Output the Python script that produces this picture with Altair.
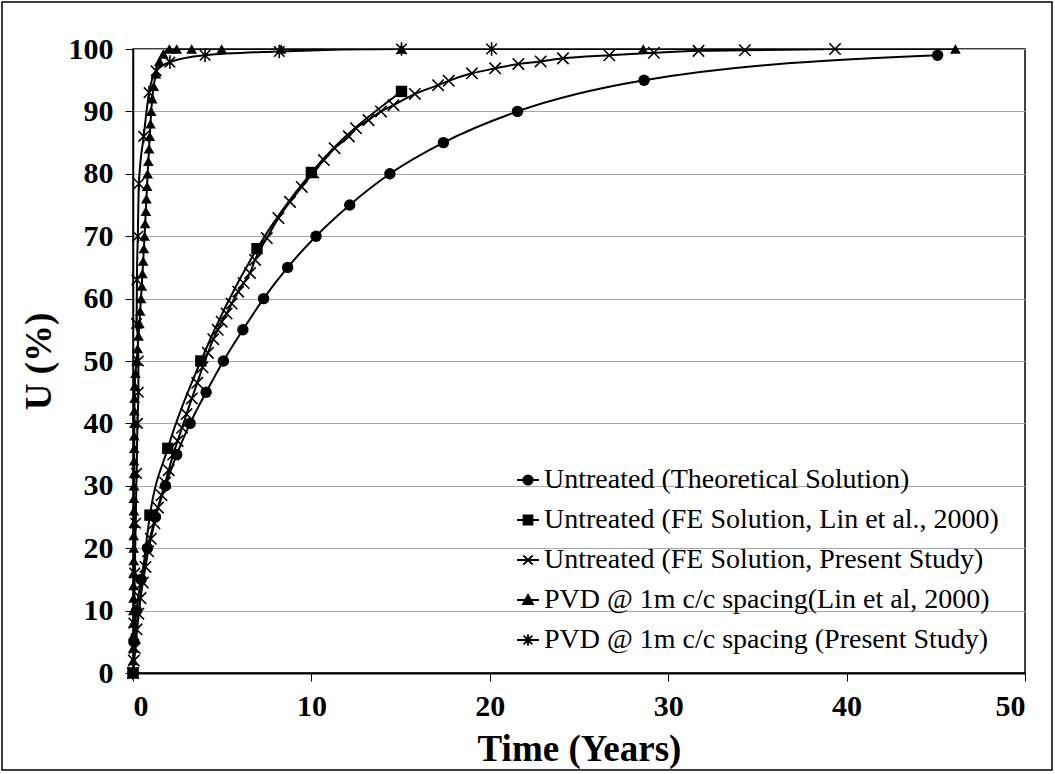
import altair as alt
import pandas as pd

# ---------------- data ----------------
SERIES = [
    "Untreated (Theoretical Solution)",
    "Untreated (FE Solution, Lin et al., 2000)",
    "Untreated (FE Solution, Present Study)",
    "PVD @ 1m c/c spacing(Lin et al, 2000)",
    "PVD @ 1m c/c spacing (Present Study)",
]

theo_t = [0, 0.05, 0.2, 0.45, 0.81, 1.26, 1.82, 2.45, 3.2, 4.1, 5.07, 6.16, 7.32,
          8.67, 10.26, 12.15, 14.4, 17.4, 21.55, 28.65, 45.1]
theo_u = [0, 5, 10, 15, 20, 25, 30, 35, 40, 45, 50, 55, 60,
          65, 70, 75, 80, 85, 90, 95, 99]

linfe_t = [0, 0.95, 1.95, 3.8, 6.95, 10.0, 15.05]
linfe_u = [0, 25.3, 36.0, 50.0, 68.0, 80.2, 93.2]

fe_t = [0, 0.05, 0.1, 0.2, 0.3, 0.42, 0.55, 0.7, 0.85, 1.0, 1.2, 1.4, 1.6, 1.8,
        2.0, 2.25, 2.5, 2.75, 3.0, 3.3, 3.6, 3.9, 4.2, 4.5, 4.75, 4.97, 5.25,
        5.53, 5.9, 6.2, 6.56, 6.84, 7.5, 8.15, 8.8, 9.46, 10.1, 10.7, 11.3,
        12.1, 12.5, 13.2, 13.9, 14.6, 15.8, 17.1, 17.7, 19.0, 20.3, 21.6,
        22.85, 24.1, 26.7, 29.2, 31.7, 34.3, 39.35]
fe_u = [0, 2, 4, 7, 9.5, 12, 14.5, 17, 19.5, 21.5, 24, 26.5, 28.5, 30.5,
        32.5, 35, 37.2, 39.3, 41.5, 44, 46.5, 49, 51.3, 53.5, 55, 56.3, 57.6,
        59.2, 61.1, 62.5, 64.1, 66.2, 69.7, 72.9, 75.5, 77.9, 80.2, 82.2, 84.1,
        86.0, 87.3, 88.6, 90.0, 91.0, 92.8, 94.2, 94.9, 96.1, 96.9, 97.6,
        98.0, 98.5, 99.0, 99.4, 99.7, 99.8, 100]

pvdlin_t = [0, 0.01, 0.01, 0.02, 0.02, 0.02, 0.03, 0.03, 0.03, 0.04, 0.04, 0.04,
            0.05, 0.05, 0.05, 0.06, 0.06, 0.06, 0.07, 0.07, 0.08, 0.08, 0.09, 0.1,
            0.14, 0.2, 0.26, 0.31, 0.36, 0.4, 0.45, 0.49, 0.53, 0.57, 0.61, 0.65,
            0.68, 0.72, 0.75, 0.79, 0.82, 0.86, 0.9, 0.94, 0.98, 1.02, 1.08, 1.16,
            1.28, 1.48, 1.7, 2.04, 2.45, 3.29, 4.97, 8.3, 15.05, 28.6, 46.1]
pvdlin_u = [0, 2, 4, 6, 8, 10, 12, 14, 16, 18, 20, 22,
            24, 26, 28, 30, 32, 34, 36, 38, 40, 42, 44, 46,
            48, 50, 52, 54, 56, 58, 60, 62, 64, 66, 68, 70,
            72, 74, 76, 78, 80, 82, 84, 86, 88, 90, 92, 94,
            96, 98, 99.2, 100, 100, 100, 100, 100, 100, 100, 100]

pvdps_t = [0, 0.05, 0.1, 0.15, 0.2, 0.25, 0.3, 0.3, 0.2, 0.22, 0.27, 0.33,
           0.6, 0.9, 1.3, 2.07, 4.04, 8.2, 15.05, 20.1]
pvdps_u = [0, 8, 16, 24, 32, 40, 45, 50, 56, 63, 70, 78.4,
           86, 93, 96.5, 97.9, 99.0, 99.6, 100, 100]

# ---------------- marker shapes ----------------
X_PATH = "M-1,-1L1,1M-1,1L1,-1"
AST_PATH = "M-1,-1L1,1M-1,1L1,-1M0,-1.3L0,1.3"

LEG_PATHS = [
    "M-1,0L1,0M0.42,0A0.42,0.42,0,1,1,-0.42,0A0.42,0.42,0,1,1,0.42,0Z",
    "M-1,0L1,0M-0.4,-0.4H0.4V0.4H-0.4Z",
    "M-1,0L1,0M-0.42,-0.42L0.42,0.42M-0.42,0.42L0.42,-0.42",
    "M-1,0L1,0M0,-0.45L0.44,0.36H-0.44Z",
    "M-1,0L1,0M-0.4,-0.4L0.4,0.4M-0.4,0.4L0.4,-0.4M0,-0.5L0,0.5",
]

FONT = "Liberation Serif"
X_SCALE = alt.Scale(domain=[0, 50], nice=False, zero=False)
Y_SCALE = alt.Scale(domain=[0, 100], nice=False)


def frame(t, u, name):
    return pd.DataFrame({"t": t, "u": u, "series": name})


def series_layers(df, shape, size, filled, sw):
    base = alt.Chart(df).encode(
        x=alt.X("t:Q", scale=X_SCALE),
        y=alt.Y("u:Q", scale=Y_SCALE),
        order=alt.Order("idx:Q"),
    ).transform_window(idx="row_number()")
    line = base.mark_line(color="black", strokeWidth=2, clip=True, interpolate="monotone")
    pts = base.mark_point(shape=shape, size=size, filled=filled, color="black",
                          strokeWidth=sw, opacity=1, clip=False)
    return [line, pts]


layers = []
layers += series_layers(frame(theo_t, theo_u, SERIES[0]), "circle", 130, True, 1)
layers += series_layers(frame(linfe_t, linfe_u, SERIES[1]), "square", 130, True, 1)
layers += series_layers(frame(fe_t, fe_u, SERIES[2]), X_PATH, 130, False, 1.6)
layers += series_layers(frame(pvdlin_t, pvdlin_u, SERIES[3]), "triangle-up", 115, True, 1)
layers += series_layers(frame(pvdps_t, pvdps_u, SERIES[4]), AST_PATH, 110, False, 1.6)

# legend-only layer (its rows are filtered away, the legend comes from the scale domain)
leg_df = pd.DataFrame({"t": [0] * 5, "u": [0] * 5, "name": SERIES})
legend_layer = alt.Chart(leg_df).transform_filter("datum.t > 1000").mark_point(
    filled=False, fill="black", stroke="black", strokeWidth=2
).encode(
    x=alt.X("t:Q", scale=X_SCALE),
    y=alt.Y("u:Q", scale=Y_SCALE),
    shape=alt.Shape(
        "name:N",
        scale=alt.Scale(domain=SERIES, range=LEG_PATHS),
        legend=alt.Legend(
            title=None, orient="none", legendX=381, legendY=417,
            symbolSize=484, symbolStrokeWidth=2, symbolOpacity=1,
            labelFont=FONT, labelFontSize=28, labelColor="black",
            labelLimit=700, rowPadding=12, labelOffset=2, padding=0,
        ),
    ),
)

# outer picture frame (decoration)
border = alt.Chart(pd.DataFrame({"k": [0]})).mark_rect(
    fill="transparent", stroke="black", strokeWidth=1.5, clip=False
).encode(
    x=alt.value(-131), x2=alt.value(919), y=alt.value(-47), y2=alt.value(721)
)

chart = alt.layer(border, *layers, legend_layer).encode(
    x=alt.X("t:Q", scale=X_SCALE, title="Time (Years)",
            axis=alt.Axis(values=[0, 10, 20, 30, 40, 50], grid=False,
                          domainColor="black", domainWidth=2,
                          tickColor="black", tickSize=8, tickWidth=1,
                          labelFont=FONT, labelFontSize=30, labelFontWeight="bold",
                          labelColor="black", labelPadding=10,
                          titleFont=FONT, titleFontSize=37, titleFontWeight="bold",
                          titleColor="black", titlePadding=10)),
    y=alt.Y("u:Q", scale=Y_SCALE, title="U (%)",
            axis=alt.Axis(values=list(range(0, 101, 10)), grid=True,
                          gridColor="#a6a6a6", gridWidth=1,
                          domainColor="black", domainWidth=1.5,
                          tickColor="black", tickSize=8, tickWidth=1,
                          labelFont=FONT, labelFontSize=30, labelFontWeight="bold",
                          labelColor="black", labelPadding=12,
                          titleFont=FONT, titleFontSize=37, titleFontWeight="bold",
                          titleColor="black", titlePadding=10)),
).resolve_scale(shape="independent").properties(
    width=892, height=624,
    autosize=alt.AutoSizeParams(type="none"),
    padding={"left": 133, "top": 49, "right": 30, "bottom": 101},
    background="white",
).configure_view(stroke="black", strokeWidth=1.5)

chart.save("out.html", embed_options={"renderer": "svg", "actions": False})
